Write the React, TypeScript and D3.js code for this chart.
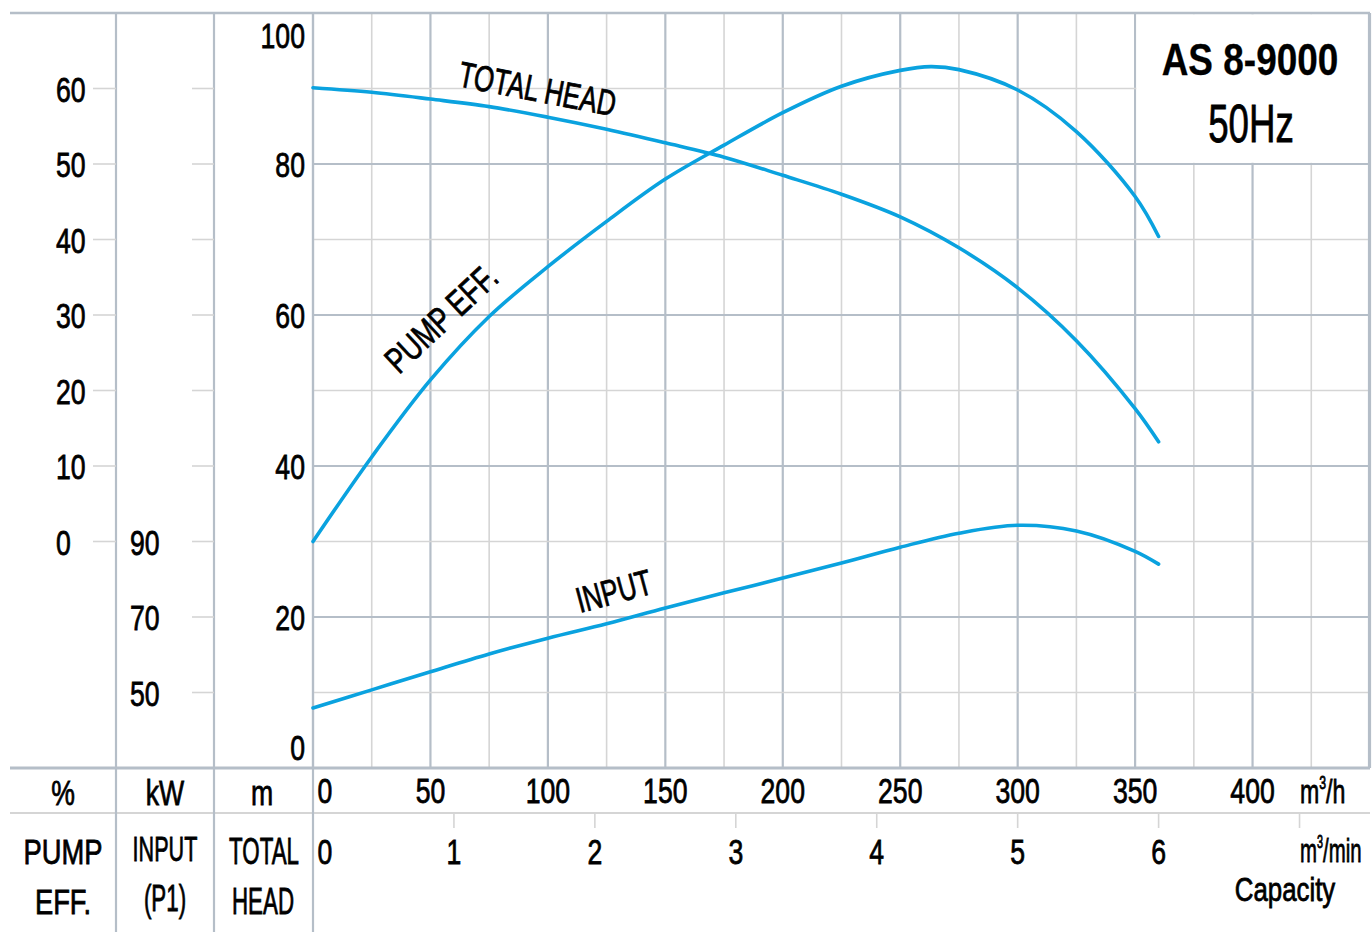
import React from "react";
import * as d3 from "d3";

// ---- data ----
const flowH = [0, 25, 50, 75, 100, 125, 150, 175, 200, 225, 250, 275, 300, 325, 350, 360];
const headM = [90.1, 89.5, 88.6, 87.6, 86.2, 84.6, 82.8, 80.9, 78.5, 76.0, 73.0, 68.9, 63.6, 56.6, 47.6, 43.2];
const inputKw = [45.9, 50.7, 55.5, 60.2, 64.4, 68.2, 72.4, 76.4, 80.3, 84.3, 88.5, 92.2, 94.3, 92.8, 87.4, 84.0];
const effFlow = [0, 25, 50, 75, 100, 125, 150, 175, 200, 225, 250, 263, 275, 300, 325, 350, 360];
const effPct = [0, 11.2, 21.4, 29.8, 36.4, 42.4, 48.0, 52.5, 56.8, 60.3, 62.4, 62.9, 62.5, 59.8, 54.3, 45.7, 40.4];

const flowTicksH = [0, 50, 100, 150, 200, 250, 300, 350, 400];
const flowTicksMin = [0, 1, 2, 3, 4, 5, 6];
const headTicks = [0, 20, 40, 60, 80, 100];
const pctTicks = [0, 10, 20, 30, 40, 50, 60];
const kwTicks = [50, 70, 90];

const title = "AS 8-9000";
const subtitle = "50Hz";

// ---- styles ----
const FONT = "'Liberation Sans', Arial, sans-serif";
const DARK = "#b5bec8";
const LIGHT = "#d5d5d5";
const BLUE = "#0aa2df";

const L = 313, R = 1370, T = 13, B = 768, ROW2 = 813, BOTTOM = 932;

function CText({ x, y, s, size = 36, sx = 0.74, anchor = "middle", weight = "normal", rotate = 0, sw = 0.8 }: any) {
  return (
    <text
      transform={`translate(${x},${y}) rotate(${rotate}) scale(${sx},1)`}
      textAnchor={anchor}
      fontFamily={FONT}
      fontSize={size}
      fontWeight={weight}
      fill="#000"
      stroke="#000"
      strokeWidth={sw}
    >
      {s}
    </text>
  );
}

export default function App() {
  const x = d3.scaleLinear().domain([0, 450]).range([L, R]);
  const xMin = d3.scaleLinear().domain([0, 450 / 60]).range([L, R]);
  const yM = d3.scaleLinear().domain([0, 100]).range([B, T]);
  const yPct = d3.scaleLinear().domain([-30, 70]).range([B, T]);
  const yKw = d3.scaleLinear().domain([30, 230]).range([B, T]);

  const curve = d3.curveCatmullRom.alpha(0.5);
  const headLine = d3.line<number>().x((_, i) => x(flowH[i])).y((d) => yM(d)).curve(curve)(headM) as string;
  const inputLine = d3.line<number>().x((_, i) => x(flowH[i])).y((d) => yKw(d)).curve(curve)(inputKw) as string;
  const effLine = d3.line<number>().x((_, i) => x(effFlow[i])).y((d) => yPct(d)).curve(curve)(effPct) as string;

  const vGrid = d3.range(0, 451, 25);
  const hGrid = d3.range(0, 101, 10);
  const kwColTicks = d3.range(10, 91, 10);

  return (
    <div style={{ position: "absolute", left: 0, top: 0 }}>
      <svg width={1372} height={932} style={{ display: "block", background: "#fff" }}>
        {/* main grid */}
        {vGrid.map((v) => (
          <line key={"v" + v} x1={x(v)} x2={x(v)} y1={T} y2={B}
            stroke={v % 50 === 0 ? DARK : LIGHT} strokeWidth={v % 50 === 0 ? 2.2 : 1.6} />
        ))}
        {hGrid.map((h) => (
          <line key={"h" + h} x1={L} x2={R} y1={yM(h)} y2={yM(h)}
            stroke={h % 20 === 0 ? DARK : LIGHT} strokeWidth={h % 20 === 0 ? 2.2 : 1.6} />
        ))}
        {/* title box */}
        <rect x={x(350) + 1.2} y={T + 1.2} width={R - x(350) - 2.4} height={yM(80) - T - 2.4} fill="#fff" />
        <line x1={R - 1} x2={R - 1} y1={T} y2={B} stroke={DARK} strokeWidth={2.2} />

        {/* left columns */}
        <line x1={10} x2={R} y1={T} y2={T} stroke={DARK} strokeWidth={2.6} />
        <line x1={10} x2={R} y1={B} y2={B} stroke={DARK} strokeWidth={2.8} />
        <line x1={10} x2={R} y1={ROW2} y2={ROW2} stroke={LIGHT} strokeWidth={2} />
        {[116, 214, L].map((cx) => (
          <line key={"c" + cx} x1={cx} x2={cx} y1={T} y2={BOTTOM} stroke={DARK} strokeWidth={2.2} />
        ))}
        {pctTicks.map((p) => (
          <line key={"pt" + p} x1={93} x2={116} y1={yPct(p)} y2={yPct(p)} stroke={LIGHT} strokeWidth={1.6} />
        ))}
        {kwColTicks.map((m) => (
          <line key={"kt" + m} x1={192} x2={214} y1={yM(m)} y2={yM(m)} stroke={LIGHT} strokeWidth={1.6} />
        ))}
        {/* m³/min ticks */}
        {d3.range(1, 8).map((q) => (
          <line key={"mt" + q} x1={xMin(q)} x2={xMin(q)} y1={ROW2} y2={ROW2 + 15} stroke={LIGHT} strokeWidth={1.6} />
        ))}

        {/* tick labels */}
        {pctTicks.map((p) => (
          <CText key={"pl" + p} x={56} y={yPct(p) + 13} s={String(p)} anchor="start" />
        ))}
        {kwTicks.map((k) => (
          <CText key={"kl" + k} x={130} y={yKw(k) + 13} s={String(k)} anchor="start" />
        ))}
        {headTicks.map((m) => (
          <CText key={"ml" + m} x={305} y={m === 100 ? yM(m) + 35 : m === 0 ? yM(m) - 8 : yM(m) + 13} s={String(m)} anchor="end" />
        ))}
        {flowTicksH.map((f) => (
          <CText key={"fh" + f} x={f === 0 ? 325 : x(f)} y={803} s={String(f)} />
        ))}
        {flowTicksMin.map((f) => (
          <CText key={"fm" + f} x={f === 0 ? 325 : xMin(f)} y={864} s={String(f)} />
        ))}
        <text transform={`translate(1300,803) scale(0.68,1)`} fontFamily={FONT} fontSize={34} stroke="#000" strokeWidth={0.8}>
          m<tspan fontSize={18} dy={-14}>3</tspan><tspan dy={14}>/h</tspan>
        </text>
        <text transform={`translate(1300,862) scale(0.6,1)`} fontFamily={FONT} fontSize={34} stroke="#000" strokeWidth={0.8}>
          m<tspan fontSize={18} dy={-14}>3</tspan><tspan dy={14}>/min</tspan>
        </text>
        <CText x={1285} y={901} s="Capacity" size={34} sx={0.76} />

        {/* column headers */}
        <CText x={63} y={805} s="%" />
        <CText x={165} y={805} s="kW" />
        <CText x={262} y={805} s="m" />
        <CText x={63} y={864} s="PUMP" sx={0.76} />
        <CText x={63} y={914} s="EFF." sx={0.76} />
        <CText x={165} y={861} s="INPUT" sx={0.6} />
        <CText x={165} y={911} s="(P1)" sx={0.62} />
        <CText x={264} y={864} s="TOTAL" sx={0.62} />
        <CText x={263} y={914} s="HEAD" sx={0.62} />

        {/* title */}
        <CText x={1250} y={75} s={title} size={44} sx={0.84} weight="bold" sw={0.3} />
        <CText x={1251} y={142} s={subtitle} size={54} sx={0.68} />

        {/* curves */}
        <path d={headLine} fill="none" stroke={BLUE} strokeWidth={3.6} strokeLinecap="round" />
        <path d={effLine} fill="none" stroke={BLUE} strokeWidth={3.6} strokeLinecap="round" />
        <path d={inputLine} fill="none" stroke={BLUE} strokeWidth={3.6} strokeLinecap="round" />

        {/* curve labels */}
        <CText x={457} y={86} s="TOTAL HEAD" size={36} sx={0.72} anchor="start" rotate={11} />
        <CText x={399} y={375} s="PUMP EFF." size={36} sx={0.74} anchor="start" rotate={-43} />
        <CText x={580} y={613} s="INPUT" size={36} sx={0.71} anchor="start" rotate={-15} />
      </svg>
    </div>
  );
}
